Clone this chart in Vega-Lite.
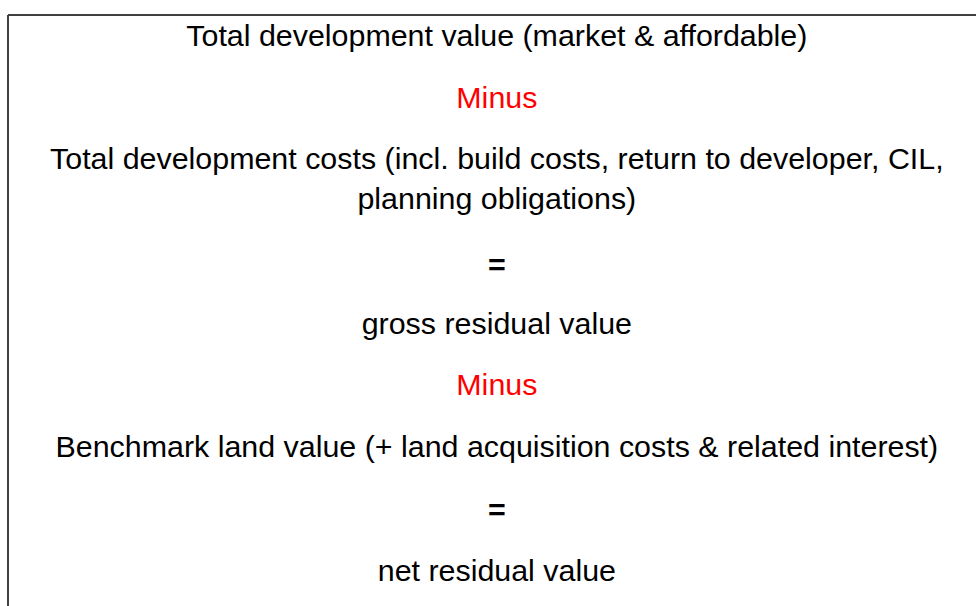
{
  "$schema": "https://vega.github.io/schema/vega-lite/v6.json",
  "autosize": "none",
  "width": 968,
  "height": 591,
  "padding": {"left": 8, "top": 15, "right": 0, "bottom": 0},
  "background": "white",
  "config": {"view": {"stroke": null}},
  "data": {"values": [
    {"label": "Total development value (market & affordable)", "role": "text", "x": 0.505, "pos": 46},
    {"label": "Minus", "role": "minus", "x": 0.505, "pos": 108},
    {"label": "Total development costs (incl. build costs, return to developer, CIL,", "role": "text", "x": 0.505, "pos": 169},
    {"label": "planning obligations)", "role": "text", "x": 0.505, "pos": 209},
    {"label": "=", "role": "equals", "x": 0.505, "pos": 275},
    {"label": "gross residual value", "role": "text", "x": 0.505, "pos": 334},
    {"label": "Minus", "role": "minus", "x": 0.505, "pos": 395},
    {"label": "Benchmark land value (+ land acquisition costs & related interest)", "role": "text", "x": 0.505, "pos": 457},
    {"label": "=", "role": "equals", "x": 0.505, "pos": 520},
    {"label": "net residual value", "role": "text", "x": 0.505, "pos": 581}
  ]},
  "encoding": {
    "x": {"field": "x", "type": "quantitative", "scale": {"domain": [0, 1], "zero": false, "nice": false}, "axis": null},
    "y": {"field": "pos", "type": "quantitative", "scale": {"domain": [15, 606], "reverse": true, "zero": false, "nice": false}, "axis": null}
  },
  "layer": [
    {
      "transform": [{"filter": "datum.role !== 'equals'"}],
      "mark": {"type": "text", "font": "Liberation Sans", "fontSize": 30.4, "align": "center", "baseline": "alphabetic"},
      "encoding": {
        "text": {"field": "label"},
        "color": {"field": "role", "type": "nominal", "scale": {"domain": ["text", "minus", "equals"], "range": ["#000000", "#ff0000", "#000000"]}, "legend": null}
      }
    },
    {
      "transform": [{"filter": "datum.role === 'equals'"}],
      "mark": {"type": "text", "font": "Liberation Sans", "fontSize": 30.4, "fontWeight": "bold", "align": "center", "baseline": "alphabetic"},
      "encoding": {
        "text": {"field": "label"},
        "color": {"field": "role", "type": "nominal", "legend": null}
      }
    },
    {
      "mark": {"type": "rule", "color": "#404040", "strokeWidth": 1.5},
      "encoding": {"x": null, "y": {"datum": 15}}
    },
    {
      "mark": {"type": "rule", "color": "#404040", "strokeWidth": 1.5},
      "encoding": {"y": null, "x": {"datum": 0}}
    }
  ]
}
